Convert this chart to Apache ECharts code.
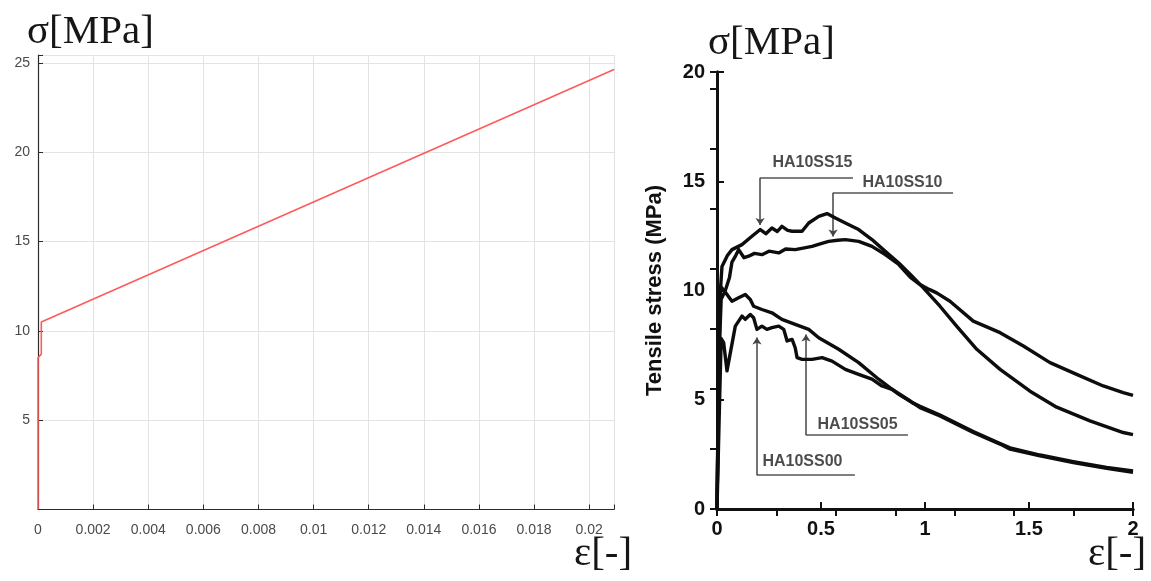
<!DOCTYPE html>
<html>
<head>
<meta charset="utf-8">
<script src="https://cdn.jsdelivr.net/npm/echarts@6/dist/echarts.min.js"></script>
<style>
html, body { margin: 0; padding: 0; background: #ffffff; }
#chart { width: 1151px; height: 581px; }
</style>
</head>
<body>
<div id="chart"></div>
<script>
// ---- Left panel: bilinear material model (strain [-], stress [MPa]) ----
const modelStrain = [0, 0, 0.00012, 0.00012, 0.0209];
const modelStress = [0, 8.5, 8.7, 10.5, 24.64];
const modelXTickLabels = ['0', '0.002', '0.004', '0.006', '0.008', '0.01', '0.012', '0.014', '0.016', '0.018', '0.02'];
const modelYTickLabels = ['', '5', '10', '15', '20', '25'];

// ---- Right panel: measured tensile curves [strain, stress] ----
const curveSS15 = [[0,0],[0.008,6.0],[0.015,9.8],[0.024,11.1],[0.05,11.6],[0.072,11.87],[0.12,12.1],[0.168,12.48],[0.208,12.79],[0.235,12.6],[0.264,12.86],[0.29,12.7],[0.312,12.94],[0.34,12.75],[0.361,12.71],[0.409,12.71],[0.441,13.09],[0.489,13.39],[0.529,13.52],[0.569,13.32],[0.617,13.09],[0.681,12.79],[0.745,12.33],[0.809,11.79],[0.874,11.26],[0.938,10.65],[0.992,10.12],[1.072,9.28],[1.152,8.37],[1.249,7.31],[1.361,6.39],[1.505,5.39],[1.633,4.66],[1.793,4.03],[1.953,3.5],[2.0,3.4]];
const curveSS10 = [[0,0],[0.01,7.0],[0.02,9.6],[0.04,10.0],[0.06,10.6],[0.072,11.3],[0.09,11.6],[0.104,11.87],[0.13,11.5],[0.152,11.57],[0.18,11.7],[0.216,11.64],[0.25,11.8],[0.297,11.72],[0.33,11.9],[0.376,11.87],[0.42,11.95],[0.457,12.02],[0.5,12.15],[0.537,12.25],[0.58,12.3],[0.617,12.33],[0.681,12.25],[0.745,12.02],[0.809,11.64],[0.874,11.19],[0.93,10.6],[0.976,10.27],[1.02,10.05],[1.056,9.89],[1.12,9.51],[1.232,8.6],[1.361,8.07],[1.473,7.46],[1.601,6.7],[1.729,6.16],[1.857,5.63],[1.953,5.33],[2.0,5.2]];
const curveSS05 = [[0,0],[0.008,7.0],[0.016,10.2],[0.048,9.82],[0.072,9.51],[0.104,9.67],[0.136,9.82],[0.16,9.59],[0.176,9.28],[0.216,9.13],[0.264,8.98],[0.312,8.68],[0.376,8.45],[0.441,8.22],[0.489,7.84],[0.585,7.31],[0.681,6.7],[0.777,5.94],[0.874,5.25],[0.938,4.87],[0.976,4.7],[1.072,4.3],[1.232,3.55],[1.361,3.0],[1.409,2.8],[1.553,2.47],[1.713,2.17],[1.873,1.9],[2.0,1.74]];
const curveSS00 = [[0,0],[0.01,4.0],[0.02,7.8],[0.032,7.61],[0.048,6.32],[0.088,8.37],[0.12,8.83],[0.136,8.68],[0.16,8.9],[0.176,8.75],[0.192,8.22],[0.216,8.37],[0.24,8.22],[0.264,8.3],[0.297,8.37],[0.321,8.22],[0.337,7.69],[0.361,7.76],[0.376,7.38],[0.385,6.93],[0.409,6.85],[0.457,6.85],[0.505,6.93],[0.553,6.77],[0.617,6.39],[0.681,6.16],[0.745,5.94],[0.793,5.63],[0.841,5.48],[0.92,5.0],[0.976,4.64],[1.072,4.26],[1.232,3.5],[1.361,2.97],[1.409,2.74],[1.553,2.43],[1.713,2.13],[1.873,1.86],[2.0,1.68]];
const testXTickLabels = ['0', '0.5', '1', '1.5', '2'];
const testYTickLabels = ['0', '5', '10', '15', '20'];

// ---- Curve callouts: name, text anchor, shelf line, arrow ----
const calloutNames = ['HA10SS15', 'HA10SS10', 'HA10SS05', 'HA10SS00'];
const calloutText = [[0.264, 15.84], [0.697, 14.93], [0.481, 3.88], [0.216, 2.15]];
const calloutShelf = [[0.207, 0.654, 15.16], [0.558, 1.135, 14.47], [0.428, 0.918, 3.38], [0.192, 0.663, 1.55]];
const calloutArrow = [[0.207, 15.16, 13.0], [0.558, 14.47, 12.47], [0.428, 3.38, 7.99], [0.192, 1.55, 7.85]];

function tickFormatter(step, labels) {
  return function (v) {
    const k = v / step;
    const i = Math.round(k);
    if (Math.abs(k - i) > 1e-6 || i < 0 || i >= labels.length) return '';
    return labels[i];
  };
}

const chart = echarts.init(document.getElementById('chart'), null, { renderer: 'canvas' });

const sansGray = { fontFamily: 'Liberation Sans, Arial, sans-serif', fontSize: 14, color: '#4a4a4a' };
const sansBold = { fontFamily: 'Liberation Sans, Arial, sans-serif', fontSize: 20, fontWeight: 'bold', color: '#111' };
const blackLine = { color: '#111', width: 3 };
const serifFont = '41px "Liberation Serif", "Times New Roman", serif';

const option = {
  animation: false,
  backgroundColor: '#ffffff',
  grid: [
    { left: 38, top: 55, width: 576, height: 454.5 },
    { left: 717, top: 72, width: 416, height: 437 }
  ],
  xAxis: [
    {
      gridIndex: 0, type: 'value', min: 0, max: 0.0209, interval: 0.002,
      axisLine: { lineStyle: { color: '#2b2b2b', width: 1.2 } },
      axisTick: { inside: true, length: 5, lineStyle: { color: '#2b2b2b' } },
      axisLabel: Object.assign({ margin: 14, formatter: tickFormatter(0.002, modelXTickLabels) }, sansGray),
      splitLine: { show: true, lineStyle: { color: '#e3e3e3', width: 1 } }
    },
    {
      gridIndex: 1, type: 'value', min: 0, max: 2, interval: 0.5,
      axisLine: { lineStyle: blackLine },
      axisTick: { inside: true, length: 7, lineStyle: { color: '#111', width: 2 } },
      axisLabel: Object.assign({ margin: 10, formatter: tickFormatter(0.5, testXTickLabels) }, sansBold),
      splitLine: { show: false }
    },
    {
      gridIndex: 1, type: 'value', position: 'top', min: 0, max: 7, interval: 1,
      axisLine: { lineStyle: blackLine },
      axisTick: { inside: true, length: 7, lineStyle: { color: '#111', width: 2 } },
      axisLabel: { show: false },
      splitLine: { show: false }
    }
  ],
  yAxis: [
    {
      gridIndex: 0, type: 'value', min: 0, max: 25.45, interval: 5,
      axisLine: { show: true, lineStyle: { color: '#2b2b2b', width: 1.2 } },
      axisTick: { show: true, inside: true, length: 5, lineStyle: { color: '#2b2b2b' } },
      axisLabel: Object.assign({ margin: 8, formatter: tickFormatter(5, modelYTickLabels) }, sansGray),
      splitLine: { show: true, lineStyle: { color: '#e3e3e3', width: 1 } }
    },
    {
      gridIndex: 1, type: 'value', min: 0, max: 20, interval: 5,
      name: 'Tensile stress (MPa)', nameLocation: 'middle', nameGap: 51, nameRotate: 90,
      nameTextStyle: { fontFamily: 'Liberation Sans, Arial, sans-serif', fontSize: 22, fontWeight: 'bold', color: '#111' },
      axisLine: { show: true, lineStyle: blackLine },
      axisTick: { show: true, inside: true, length: 7, lineStyle: { color: '#111', width: 2 } },
      axisLabel: Object.assign({ margin: 12, formatter: tickFormatter(5, testYTickLabels) }, sansBold),
      splitLine: { show: false }
    },
    {
      gridIndex: 1, type: 'value', position: 'right', min: 0, max: 7.283, interval: 1,
      axisLine: { show: true, lineStyle: blackLine },
      axisTick: { show: true, inside: true, length: 7, lineStyle: { color: '#111', width: 2 } },
      axisLabel: { show: false },
      splitLine: { show: false }
    }
  ],
  graphic: [
    { type: 'text', left: 27, top: 12, style: { text: 'σ[MPa]', font: serifFont, fill: '#161616' } },
    { type: 'text', left: 708, top: 23, style: { text: 'σ[MPa]', font: serifFont, fill: '#161616' } },
    { type: 'text', left: 574, top: 534, style: { text: 'ε[-]', font: serifFont, fill: '#161616' } },
    { type: 'text', left: 1088, top: 534, style: { text: 'ε[-]', font: serifFont, fill: '#161616' } }
  ],
  series: [
    {
      type: 'line', xAxisIndex: 0, yAxisIndex: 0, symbol: 'none',
      lineStyle: { color: '#ff5a5a', width: 1.6 },
      data: modelStrain.map((s, i) => [s, modelStress[i]])
    },
    ...[curveSS15, curveSS10, curveSS05, curveSS00].map((c, i) => ({
      type: 'line', name: calloutNames[i], xAxisIndex: 1, yAxisIndex: 1, symbol: 'none',
      lineStyle: { color: '#0d0d0d', width: 3.4, join: 'round' },
      data: c
    })),
    {
      type: 'lines', coordinateSystem: 'cartesian2d', xAxisIndex: 1, yAxisIndex: 1,
      symbol: ['none', 'none'],
      lineStyle: { color: '#555', width: 1.5, opacity: 1 },
      data: calloutShelf.map(s => ({ coords: [[s[0], s[2]], [s[1], s[2]]] }))
    },
    {
      type: 'lines', coordinateSystem: 'cartesian2d', xAxisIndex: 1, yAxisIndex: 1,
      symbol: ['none', 'arrow'], symbolSize: 7,
      lineStyle: { color: '#444', width: 1.5, opacity: 1 },
      data: calloutArrow.map(a => ({ coords: [[a[0], a[1]], [a[0], a[2]]] }))
    },
    {
      type: 'scatter', xAxisIndex: 1, yAxisIndex: 1, symbolSize: 1,
      itemStyle: { color: 'rgba(0,0,0,0)' },
      label: {
        show: true, position: 'right', distance: 0, align: 'left', verticalAlign: 'middle',
        fontFamily: 'Liberation Sans, Arial, sans-serif', fontSize: 16, fontWeight: 'bold', color: '#1e1e1e',
        formatter: p => p.data[2]
      },
      data: calloutText.map((t, i) => [t[0], t[1], calloutNames[i]])
    }
  ]
};

chart.setOption(option);
</script>
</body>
</html>
